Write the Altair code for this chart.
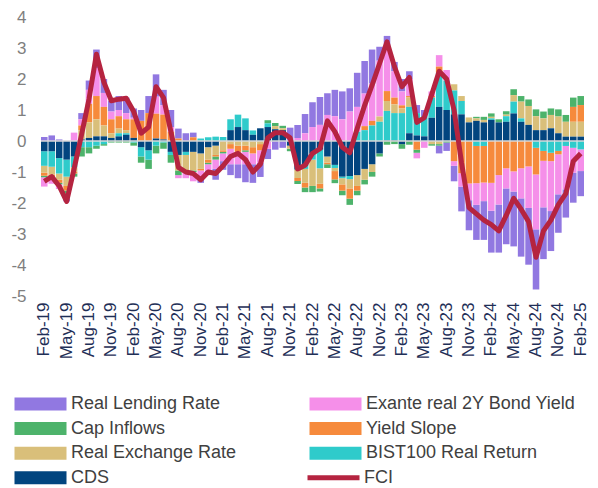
import altair as alt
import pandas as pd

mon = ["Jan", "Feb", "Mar", "Apr", "May", "Jun", "Jul", "Aug", "Sep", "Oct", "Nov", "Dec"]
months = [f"{m}-{y}" for y in range(19, 26) for m in mon][1:74]  # Feb-19 .. Feb-25
tick_labels = months[::3]

CDS = [-0.33, -0.33, -0.55, -0.60, -0.50, 0.05, 0.10, 0.15, 0.15, 0.10,
       0.15, 0.20, 0.10, -0.20, -0.30, 0.08, 0.05, -0.35, -0.45, -0.35,
       -0.35, -0.40, -0.20, -0.15, 0.00, 0.35, 0.45, 0.35, 0.20, 0.41,
       0.45, 0.38, 0.35, -0.15, -0.92, -0.80, -0.40, -0.28, -0.50, -0.77,
       -1.15, -1.13, -1.10, -0.90, -0.75, -0.40, 0.02, 0.02, -0.10, 0.25,
       0.18, 0.15, 0.75, 1.10, 1.00, 0.86, 0.86, 0.60, 0.65, 0.60,
       0.68, 0.60, 0.62, 0.89, 0.62, 0.52, 0.35, 0.35, 0.41, 0.25,
       0.14, 0.14, 0.14]
BIST = [-0.47, -0.50, -0.50, -0.55, -0.35, -0.20, -0.20, -0.15, -0.10, 0.00,
        0.10, 0.05, -0.05, -0.30, -0.30, -0.15, -0.05, -0.10, 0.00, -0.10,
        0.00, 0.08, 0.12, 0.14, 0.13, 0.35, 0.40, 0.38, 0.14, 0.00,
        0.12, 0.00, 0.00, 0.00, 0.00, -0.10, -0.20, -0.60, 0.00, -0.10,
        -0.05, -0.10, 0.30, 0.35, 0.50, 0.62, 0.95, 0.88, 0.90, 0.85,
        0.72, 0.65, 0.65, 1.10, 0.95, 0.77, 0.43, 0.00, -0.16, -0.16,
        0.05, 0.00, 0.18, 0.38, 0.11, 0.00, -0.22, -0.32, -0.38, -0.32,
        -0.16, -0.22, -0.27]
REER = [-0.22, -0.25, -0.20, -0.30, -0.15, 0.30, 0.50, 0.55, 0.35, 0.15,
        0.15, 0.10, 0.00, 0.00, 0.00, 0.00, 0.00, 0.00, -0.50, -0.50,
        -0.60, -0.50, -0.40, -0.30, -0.30, -0.10, -0.15, -0.15, -0.20, -0.10,
        0.00, 0.10, 0.06, -0.10, -0.27, -0.45, -0.85, -0.50, -0.20, -0.10,
        -0.20, -0.30, -0.35, -0.35, -0.25, 0.17, 0.32, 0.28, 0.15, 0.30,
        0.00, 0.00, -0.10, -0.10, 0.00, 0.20, 0.16, 0.16, 0.08, 0.08,
        0.05, 0.00, 0.05, 0.21, 0.54, 0.61, 0.45, 0.38, 0.43, 0.54,
        0.48, 0.48, 0.48]
YS = [-0.10, -0.10, -0.10, -0.15, -0.05, 0.15, 0.60, 0.75, 0.60, 0.45,
      0.40, 0.35, 0.60, 0.65, 0.90, 0.80, 0.80, 0.30, 0.08, 0.00,
      0.12, -0.05, -0.10, -0.05, -0.05, -0.15, -0.20, -0.15, -0.20, -0.20,
      0.00, 0.00, 0.00, 0.00, -0.10, -0.15, 0.00, -0.15, -0.05, -0.27,
      -0.20, -0.33, -0.15, 0.13, 0.15, 0.00, 0.32, 0.22, 0.10, 0.05,
      -0.28, 0.00, 0.05, 0.20, 0.00, -0.65, -1.04, -1.37, -1.20, -1.18,
      -1.35, -1.10, -0.88, -0.98, -0.88, -0.82, -0.86, -0.32, -0.27, -0.11,
      0.00, 0.48, 0.54]
CAP = [-0.05, -0.05, -0.05, -0.10, -0.10, -0.30, -0.20, -0.10, -0.05, -0.05,
       -0.05, -0.05, -0.10, -0.20, -0.30, -0.25, -0.20, -0.25, -0.15, -0.05,
       -0.05, 0.00, -0.05, -0.10, -0.05, 0.00, 0.00, -0.05, 0.00, 0.00,
       0.10, 0.10, 0.08, -0.08, -0.10, -0.15, -0.20, -0.10, -0.12, -0.12,
       -0.15, -0.20, -0.15, -0.15, -0.15, -0.10, -0.12, -0.10, -0.15, -0.12,
       -0.10, 0.00, -0.05, -0.05, -0.05, 0.00, 0.00, 0.00, 0.05, 0.10,
       0.11, 0.10, 0.11, 0.19, 0.18, 0.21, 0.22, 0.22, 0.21, 0.23,
       0.22, 0.30, 0.29]
EXANTE = [-0.30, -0.15, -0.15, -0.15, 0.27, 0.20, 0.45, 0.90, 0.45, 0.25,
          0.20, 0.20, 0.05, 0.00, 0.00, 0.55, 0.30, 0.15, -0.10, -0.20,
          -0.30, -0.25, -0.20, -0.30, -0.25, -0.50, -0.40, -0.40, -0.35, -0.40,
          -0.25, 0.00, 0.00, 0.00, 0.10, 0.25, 0.45, 0.52, 0.84, 0.80,
          0.70, 0.95, 0.80, 1.05, 1.20, 1.80, 1.45, 0.85, 0.45, 0.55,
          -0.18, -0.22, 0.15, 0.37, 0.34, -0.15, -0.43, -0.54, -0.70, -0.60,
          -0.90, -0.95, -0.65, -0.65, -0.97, -1.34, -1.77, -1.50, -1.61, -1.29,
          -1.40, -0.80, -0.70]
RLR = [0.13, 0.18, 0.05, -0.10, 0.00, 0.20, 0.30, 0.60, 0.45, 0.35,
       0.45, 0.50, 0.30, 0.35, 0.55, 0.72, 0.50, 0.55, 0.32, 0.25,
       0.15, -0.15, -0.15, -0.35, -0.28, -0.35, -0.45, -0.58, -0.60, -0.46,
       -0.33, -0.28, -0.22, 0.43, 0.42, 0.62, 0.80, 0.90, 0.70, 0.85,
       0.90, 0.75, 1.10, 1.05, 1.10, 0.45, 0.33, 0.30, 0.40, 0.25,
       0.26, 0.20, 0.00, -0.25, -0.27, -0.50, -0.80, -0.97, -1.13, -1.25,
       -1.35, -1.55, -1.80, -1.77, -1.88, -1.83, -1.94, -1.67, -1.29, -1.24,
       -0.91, -0.97, -0.81]
FCI = [-1.30, -1.15, -1.45, -1.95, -0.90, 0.20, 1.35, 2.80, 1.90, 1.30,
       1.35, 1.38, 0.95, 0.25, 0.45, 1.75, 1.40, 0.30, -0.85, -1.00,
       -1.05, -1.25, -1.00, -1.05, -0.80, -0.50, -0.40, -0.60, -1.00, -0.75,
       0.10, 0.27, 0.27, 0.10, -0.90, -0.78, -0.40, -0.25, 0.65, 0.30,
       -0.20, -0.38, 0.40, 1.15, 1.80, 2.50, 3.20, 2.40, 1.75, 2.05,
       0.60, 0.75, 1.50, 2.25, 2.00, 1.00, -0.70, -2.15, -2.35, -2.55,
       -2.70, -2.90, -2.40, -1.85, -2.20, -2.60, -3.75, -2.90, -2.55, -2.05,
       -1.70, -0.65, -0.40]

series_names = ["Real Lending Rate", "Exante real 2Y Bond Yield", "Cap Inflows",
                "Yield Slope", "Real Exchange Rate", "BIST100 Real Return", "CDS"]
series_values = [RLR, EXANTE, CAP, YS, REER, BIST, CDS]
series_colors = ["#9178E1", "#F58FE9", "#4DB36B", "#F68A3C", "#D9BF7A", "#2FCBCB", "#02457F"]
stack_rank = [6, 5, 4, 3, 2, 1, 0]  # CDS nearest zero

# legend fills column by column: first column then second column
legend_order = [0, 2, 4, 6, 1, 3, 5]
legend_domain = [series_names[i] for i in legend_order]
legend_range = [series_colors[i] for i in legend_order]

rows = []
for name, vals, rank in zip(series_names, series_values, stack_rank):
    for m, v in zip(months, vals):
        rows.append({"month": m, "series": name, "value": v, "rank": rank})
bars_df = pd.DataFrame(rows)
fci_df = pd.DataFrame({"month": months, "FCI": FCI, "name": ["FCI"] * len(months)})

FONT = "Liberation Sans"
LEG_Y = 378
ROW = 24.6
x_axis = alt.Axis(values=tick_labels, labelAngle=-90, title=None, domain=False, ticks=False,
                  tickSize=0, labelPadding=6, labelFont=FONT, labelFontSize=17,
                  labelColor="#1F2F57", labelOverlap=False)
y_axis = alt.Axis(values=list(range(-5, 5)), title=None, domain=False, ticks=False, tickSize=0,
                  grid=False, labelPadding=15, labelFont=FONT, labelFontSize=17,
                  labelColor="#7F7F7F", labelExpr="'' + datum.value")
x_enc = alt.X("month:N", sort=months, axis=x_axis,
              scale=alt.Scale(paddingInner=0.12, paddingOuter=0))
y_scale = alt.Scale(domain=[-5, 4], nice=False)

bars = alt.Chart(bars_df).mark_bar().encode(
    x=x_enc,
    y=alt.Y("value:Q", stack="zero", scale=y_scale, axis=y_axis),
    color=alt.Color("series:N", scale=alt.Scale(domain=legend_domain, range=legend_range),
                    legend=alt.Legend(orient="none", legendX=-29, legendY=LEG_Y, columns=2,
                                      columnPadding=70, rowPadding=ROW - 18,
                                      symbolType="M-1,-1L7,-1L7,1L-1,1Z", symbolSize=169,
                                      symbolStrokeWidth=0, labelOffset=41, labelFontSize=18,
                                      labelFont=FONT, labelColor="#404040", labelLimit=400,
                                      title=None, padding=0)),
    order=alt.Order("rank:Q", sort="ascending"),
)

zero = alt.Chart(pd.DataFrame({"z": [0]})).mark_rule(color="#D9D9D9", strokeWidth=1.5).encode(
    y=alt.Y("z:Q", scale=y_scale, axis=y_axis)
)

line = alt.Chart(fci_df).mark_line(strokeWidth=5, strokeJoin="round").encode(
    x=x_enc,
    y=alt.Y("FCI:Q", scale=y_scale, axis=y_axis),
    stroke=alt.Stroke("name:N", scale=alt.Scale(domain=["FCI"], range=["#B52440"]),
                      legend=alt.Legend(orient="none", legendX=264, legendY=LEG_Y + 3 * ROW,
                                        symbolType="M-1,0L7,0", symbolSize=169,
                                        symbolStrokeWidth=5, labelOffset=41, labelFontSize=18,
                                        labelFont=FONT, labelColor="#404040", title=None,
                                        padding=0)),
)

chart = alt.layer(bars, zero, line).properties(
    width=543, height=279,
    autosize=alt.AutoSizeParams(type="none"),
    padding={"left": 33, "top": 9, "right": 6, "bottom": 192},
).configure_view(strokeWidth=0)

chart.save("out.html", embed_options={"renderer": "svg", "actions": False})
